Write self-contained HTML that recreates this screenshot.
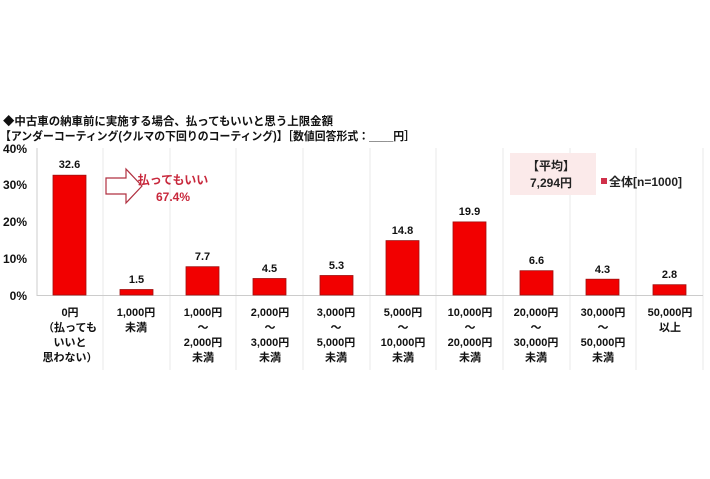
<!DOCTYPE html>
<html><head><meta charset="utf-8"><style>
body{margin:0;background:#fff;}
svg text{font-family:"Liberation Sans","Noto Sans CJK JP",sans-serif;font-weight:bold;}
</style></head><body>
<svg width="710" height="474" viewBox="0 0 710 474" xmlns="http://www.w3.org/2000/svg">
<text x="3" y="125" font-size="11.5" fill="#111" textLength="330" lengthAdjust="spacingAndGlyphs">◆中古車の納車前に実施する場合、払ってもいいと思う上限金額</text>
<text x="0" y="140" font-size="11.5" fill="#111" textLength="415" lengthAdjust="spacingAndGlyphs">【アンダーコーティング(クルマの下回りのコーティング)】［数値回答形式：____円］</text>
<g font-size="12" fill="#111" text-anchor="end">
<text x="27" y="153">40%</text><text x="27" y="189">30%</text><text x="27" y="226">20%</text><text x="27" y="263">10%</text><text x="27" y="300">0%</text>
</g>
<g stroke="#e8e8e8" stroke-width="1">
<line x1="103" y1="148" x2="103" y2="370"/><line x1="170" y1="148" x2="170" y2="370"/><line x1="236" y1="148" x2="236" y2="370"/><line x1="303" y1="148" x2="303" y2="370"/><line x1="370" y1="148" x2="370" y2="370"/><line x1="436" y1="148" x2="436" y2="370"/><line x1="503" y1="148" x2="503" y2="370"/><line x1="570" y1="148" x2="570" y2="370"/><line x1="636" y1="148" x2="636" y2="370"/><line x1="703" y1="148" x2="703" y2="370"/>
</g>
<line x1="37" y1="148" x2="37" y2="296" stroke="#ccc"/>
<line x1="37" y1="295.5" x2="703" y2="295.5" stroke="#ccc"/>
<rect x="510" y="153" width="86" height="42" fill="#fbeaea"/>
<text x="551" y="170" font-size="12" text-anchor="middle" fill="#222">【平均】</text>
<text x="551" y="187" font-size="12" text-anchor="middle" fill="#222">7,294円</text>
<rect x="601" y="178" width="6" height="6" fill="#d0304a"/>
<text x="609" y="186" font-size="12" fill="#222">全体[n=1000]</text>
<path d="M106 178 h20 v-9 l16 17 l-16 17 v-9 h-20 z" fill="#fff" stroke="#b03040" stroke-width="1.2"/>
<text x="173" y="184" font-size="12" text-anchor="middle" fill="#c8283c">払ってもいい</text>
<text x="173" y="201" font-size="12" text-anchor="middle" fill="#c8283c">67.4%</text>
<g fill="#f20000" stroke="#a01010" stroke-width="0.8">
<rect x="53" y="175.2" width="33" height="119.8"/>
<rect x="120" y="289.5" width="33" height="5.5"/>
<rect x="186" y="266.7" width="33" height="28.3"/>
<rect x="253" y="278.5" width="33" height="16.5"/>
<rect x="320" y="275.5" width="33" height="19.5"/>
<rect x="386" y="240.6" width="33" height="54.4"/>
<rect x="453" y="221.9" width="33" height="73.1"/>
<rect x="520" y="270.7" width="33" height="24.3"/>
<rect x="586" y="279.2" width="33" height="15.8"/>
<rect x="653" y="284.7" width="33" height="10.3"/>
</g>
<g font-size="11" fill="#111" text-anchor="middle">
<text x="69.5" y="168">32.6</text><text x="136.5" y="283">1.5</text><text x="202.5" y="260">7.7</text><text x="269.5" y="272">4.5</text><text x="336.5" y="269">5.3</text><text x="402.5" y="234">14.8</text><text x="469.5" y="215">19.9</text><text x="536.5" y="264">6.6</text><text x="602.5" y="273">4.3</text><text x="669.5" y="278">2.8</text>
</g>
<g font-size="11" fill="#111" text-anchor="middle">
<text x="70" y="316">0円</text><text x="70" y="331">（払っても</text><text x="70" y="346">いいと</text><text x="70" y="361">思わない）</text>
<text x="136" y="316">1,000円</text><text x="136" y="331">未満</text>
<text x="203" y="316">1,000円</text><text x="203" y="331">～</text><text x="203" y="346">2,000円</text><text x="203" y="361">未満</text>
<text x="270" y="316">2,000円</text><text x="270" y="331">～</text><text x="270" y="346">3,000円</text><text x="270" y="361">未満</text>
<text x="336" y="316">3,000円</text><text x="336" y="331">～</text><text x="336" y="346">5,000円</text><text x="336" y="361">未満</text>
<text x="403" y="316">5,000円</text><text x="403" y="331">～</text><text x="403" y="346">10,000円</text><text x="403" y="361">未満</text>
<text x="470" y="316">10,000円</text><text x="470" y="331">～</text><text x="470" y="346">20,000円</text><text x="470" y="361">未満</text>
<text x="536" y="316">20,000円</text><text x="536" y="331">～</text><text x="536" y="346">30,000円</text><text x="536" y="361">未満</text>
<text x="603" y="316">30,000円</text><text x="603" y="331">～</text><text x="603" y="346">50,000円</text><text x="603" y="361">未満</text>
<text x="670" y="316">50,000円</text><text x="670" y="331">以上</text>
</g>
</svg>
</body></html>
